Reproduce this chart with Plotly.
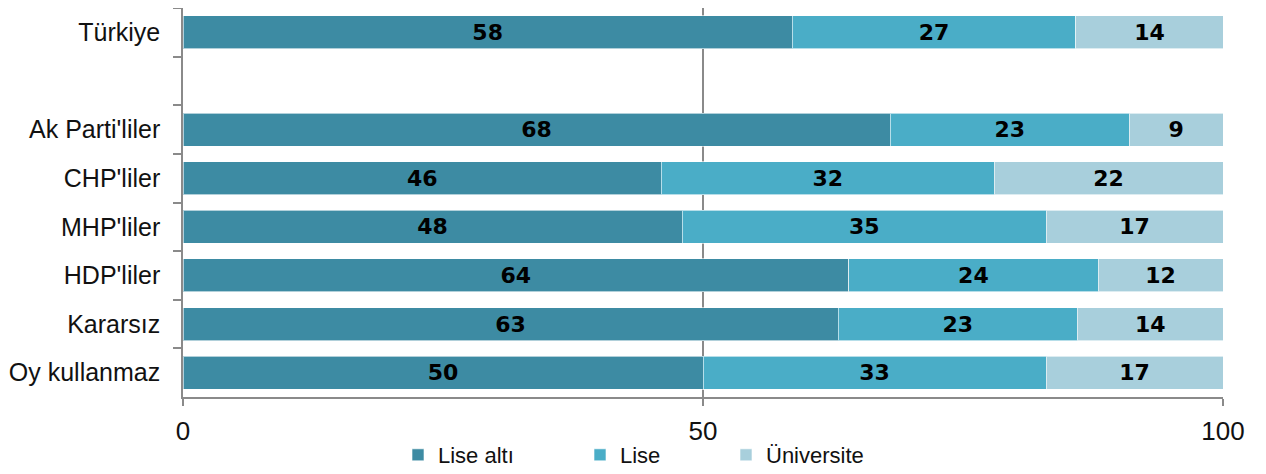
import plotly.graph_objects as go

categories = ["Türkiye", " ", "Ak Parti'liler", "CHP'liler", "MHP'liler", "HDP'liler", "Kararsız", "Oy kullanmaz"]
lise_alti = [58, None, 68, 46, 48, 64, 63, 50]
lise = [27, None, 23, 32, 35, 24, 23, 33]
universite = [14, None, 9, 22, 17, 12, 14, 17]
series_names = ["Lise altı", "Lise", "Üniversite"]
colors = ["#3d8ba3", "#4aadc7", "#a8cfdc"]
x_ticks = [0, 50, 100]

W, H = 1266, 474
ML, MR, MT, MB = 175, 51, 0, 85
PW, PH = W - ML - MR, H - MT - MB

fig = go.Figure()
legends = ["legend", "legend2", "legend3"]
for name, vals, col, lg in zip(series_names, [lise_alti, lise, universite], colors, legends):
    fig.add_trace(go.Bar(
        y=categories, x=vals, name=name, orientation="h",
        marker=dict(color=col, line=dict(color="rgba(255,255,255,0.6)", width=1)),
        text=[("" if v is None else str(v)) for v in vals],
        textposition="inside", insidetextanchor="middle",
        textfont=dict(family="DejaVu Sans", size=22, color="black", weight="bold"),
        legend=lg, hoverinfo="skip", showlegend=True,
    ))

leg_y = (PH - 447) / PH
leg_common = dict(orientation="h", xref="paper", yref="paper", xanchor="left", yanchor="middle",
                  font=dict(family="Liberation Sans", size=22, color="#111"), bgcolor="rgba(0,0,0,0)",
                  itemwidth=30, y=leg_y)
fig.update_layout(
    barmode="stack", barnorm="percent", bargap=0.32,
    width=W, height=H, showlegend=True,
    margin=dict(l=ML, r=MR, t=MT, b=MB),
    plot_bgcolor="white", paper_bgcolor="white",
    font=dict(family="Liberation Sans", size=24, color="#111"),
    legend=dict(x=(390 - ML) / PW, **leg_common),
    legend2=dict(x=(572 - ML) / PW, **leg_common),
    legend3=dict(x=(718 - ML) / PW, **leg_common),
)
fig.update_xaxes(range=[0, 100], tickvals=x_ticks, showgrid=True, gridcolor="#8a8a8a", gridwidth=1.5,
                 showline=True, linecolor="#8a8a8a", linewidth=1.5, ticks="outside", ticklen=7,
                 tickcolor="#8a8a8a", tickwidth=1.5, zeroline=False, ticklabelstandoff=3,
                 tickfont=dict(size=26), automargin=False)
fig.update_yaxes(categoryorder="array", categoryarray=categories, autorange="reversed",
                 showline=True, linecolor="#8a8a8a", linewidth=1.5, ticks="outside", ticklen=8,
                 tickcolor="#8a8a8a", tickwidth=1.5, tickson="boundaries", ticklabelstandoff=16,
                 tickfont=dict(size=25), showgrid=False, automargin=False)
fig.write_html("out.html")
